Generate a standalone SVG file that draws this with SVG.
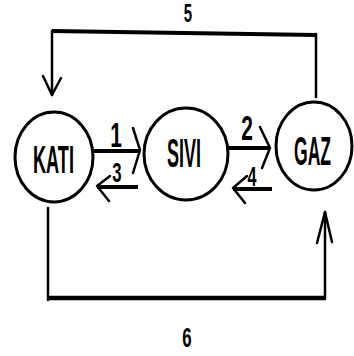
<svg xmlns="http://www.w3.org/2000/svg" width="354" height="356" viewBox="0 0 354 356">
<style>
.node{fill:#fff;stroke:#000;stroke-width:3}
.lbl{font-family:"Liberation Sans",Arial,sans-serif;font-weight:bold;fill:#000}
.thick{stroke:#000;stroke-width:4;fill:none;stroke-linecap:butt}
.thin{stroke:#000;stroke-width:2.5;fill:none;stroke-linecap:round;stroke-linejoin:round}
</style>
<rect width="354" height="356" fill="#fff"/>
<g id="connectors">
  <!-- 5: GAZ to KATI over top -->
  <polyline class="thick" points="52,31 316,35"/>
  <line class="thin" x1="52" y1="31" x2="52" y2="95"/>
  <polyline class="thin" points="43,76 52,95 61,78"/>
  <line class="thin" x1="316" y1="34" x2="316" y2="97"/>
  <!-- 6: KATI to GAZ under bottom -->
  <line class="thin" x1="48" y1="208" x2="48" y2="300"/>
  <line class="thick" x1="47" y1="298" x2="326" y2="298" style="stroke-width:4.5"/>
  <line class="thin" x1="325" y1="298" x2="325" y2="212"/>
  <polyline class="thin" points="317,243 325,212 332,242"/>
  <!-- 1: KATI to SIVI -->
  <line class="thick" x1="94" y1="151" x2="140" y2="151"/>
  <polyline class="thin" points="133,128 140,150 133,173"/>
  <!-- 3: SIVI to KATI -->
  <line class="thick" x1="138" y1="187" x2="97" y2="187"/>
  <polyline class="thin" points="110,176 97,186 109,201"/>
  <!-- 2: SIVI to GAZ -->
  <line class="thick" x1="227" y1="148" x2="270" y2="148"/>
  <polyline class="thin" points="260,127 270,148 262,168"/>
  <!-- 4: GAZ to SIVI -->
  <line class="thick" x1="272" y1="189" x2="233" y2="189"/>
  <polyline class="thin" points="247,176 233,188 245,203"/>
  <g class="lbl">
    <text transform="translate(116,147) scale(0.6,1)" font-size="35" text-anchor="middle">1</text>
    <text transform="translate(247,140) scale(0.6,1)" font-size="35" text-anchor="middle">2</text>
    <text transform="translate(117,182) scale(0.6,1)" font-size="28" text-anchor="middle">3</text>
    <text transform="translate(252,186) scale(0.6,1)" font-size="27" text-anchor="middle">4</text>
    <text transform="translate(188,22) scale(0.6,1)" font-size="25" text-anchor="middle">5</text>
    <text transform="translate(187,347) scale(0.6,1)" font-size="28" text-anchor="middle">6</text>
  </g>
</g>
<g id="kati">
  <ellipse class="node" cx="54" cy="157" rx="39" ry="45"/>
  <text class="lbl" x="33" y="173" font-size="39" textLength="41" lengthAdjust="spacingAndGlyphs">KATI</text>
</g>
<g id="sivi">
  <ellipse class="node" cx="186" cy="154" rx="42" ry="46"/>
  <text class="lbl" x="167" y="167" font-size="40" textLength="34" lengthAdjust="spacingAndGlyphs">SIVI</text>
</g>
<g id="gaz">
  <ellipse class="node" cx="314" cy="146" rx="38" ry="44"/>
  <text class="lbl" x="294" y="165" font-size="40" textLength="37" lengthAdjust="spacingAndGlyphs">GAZ</text>
</g>
</svg>
